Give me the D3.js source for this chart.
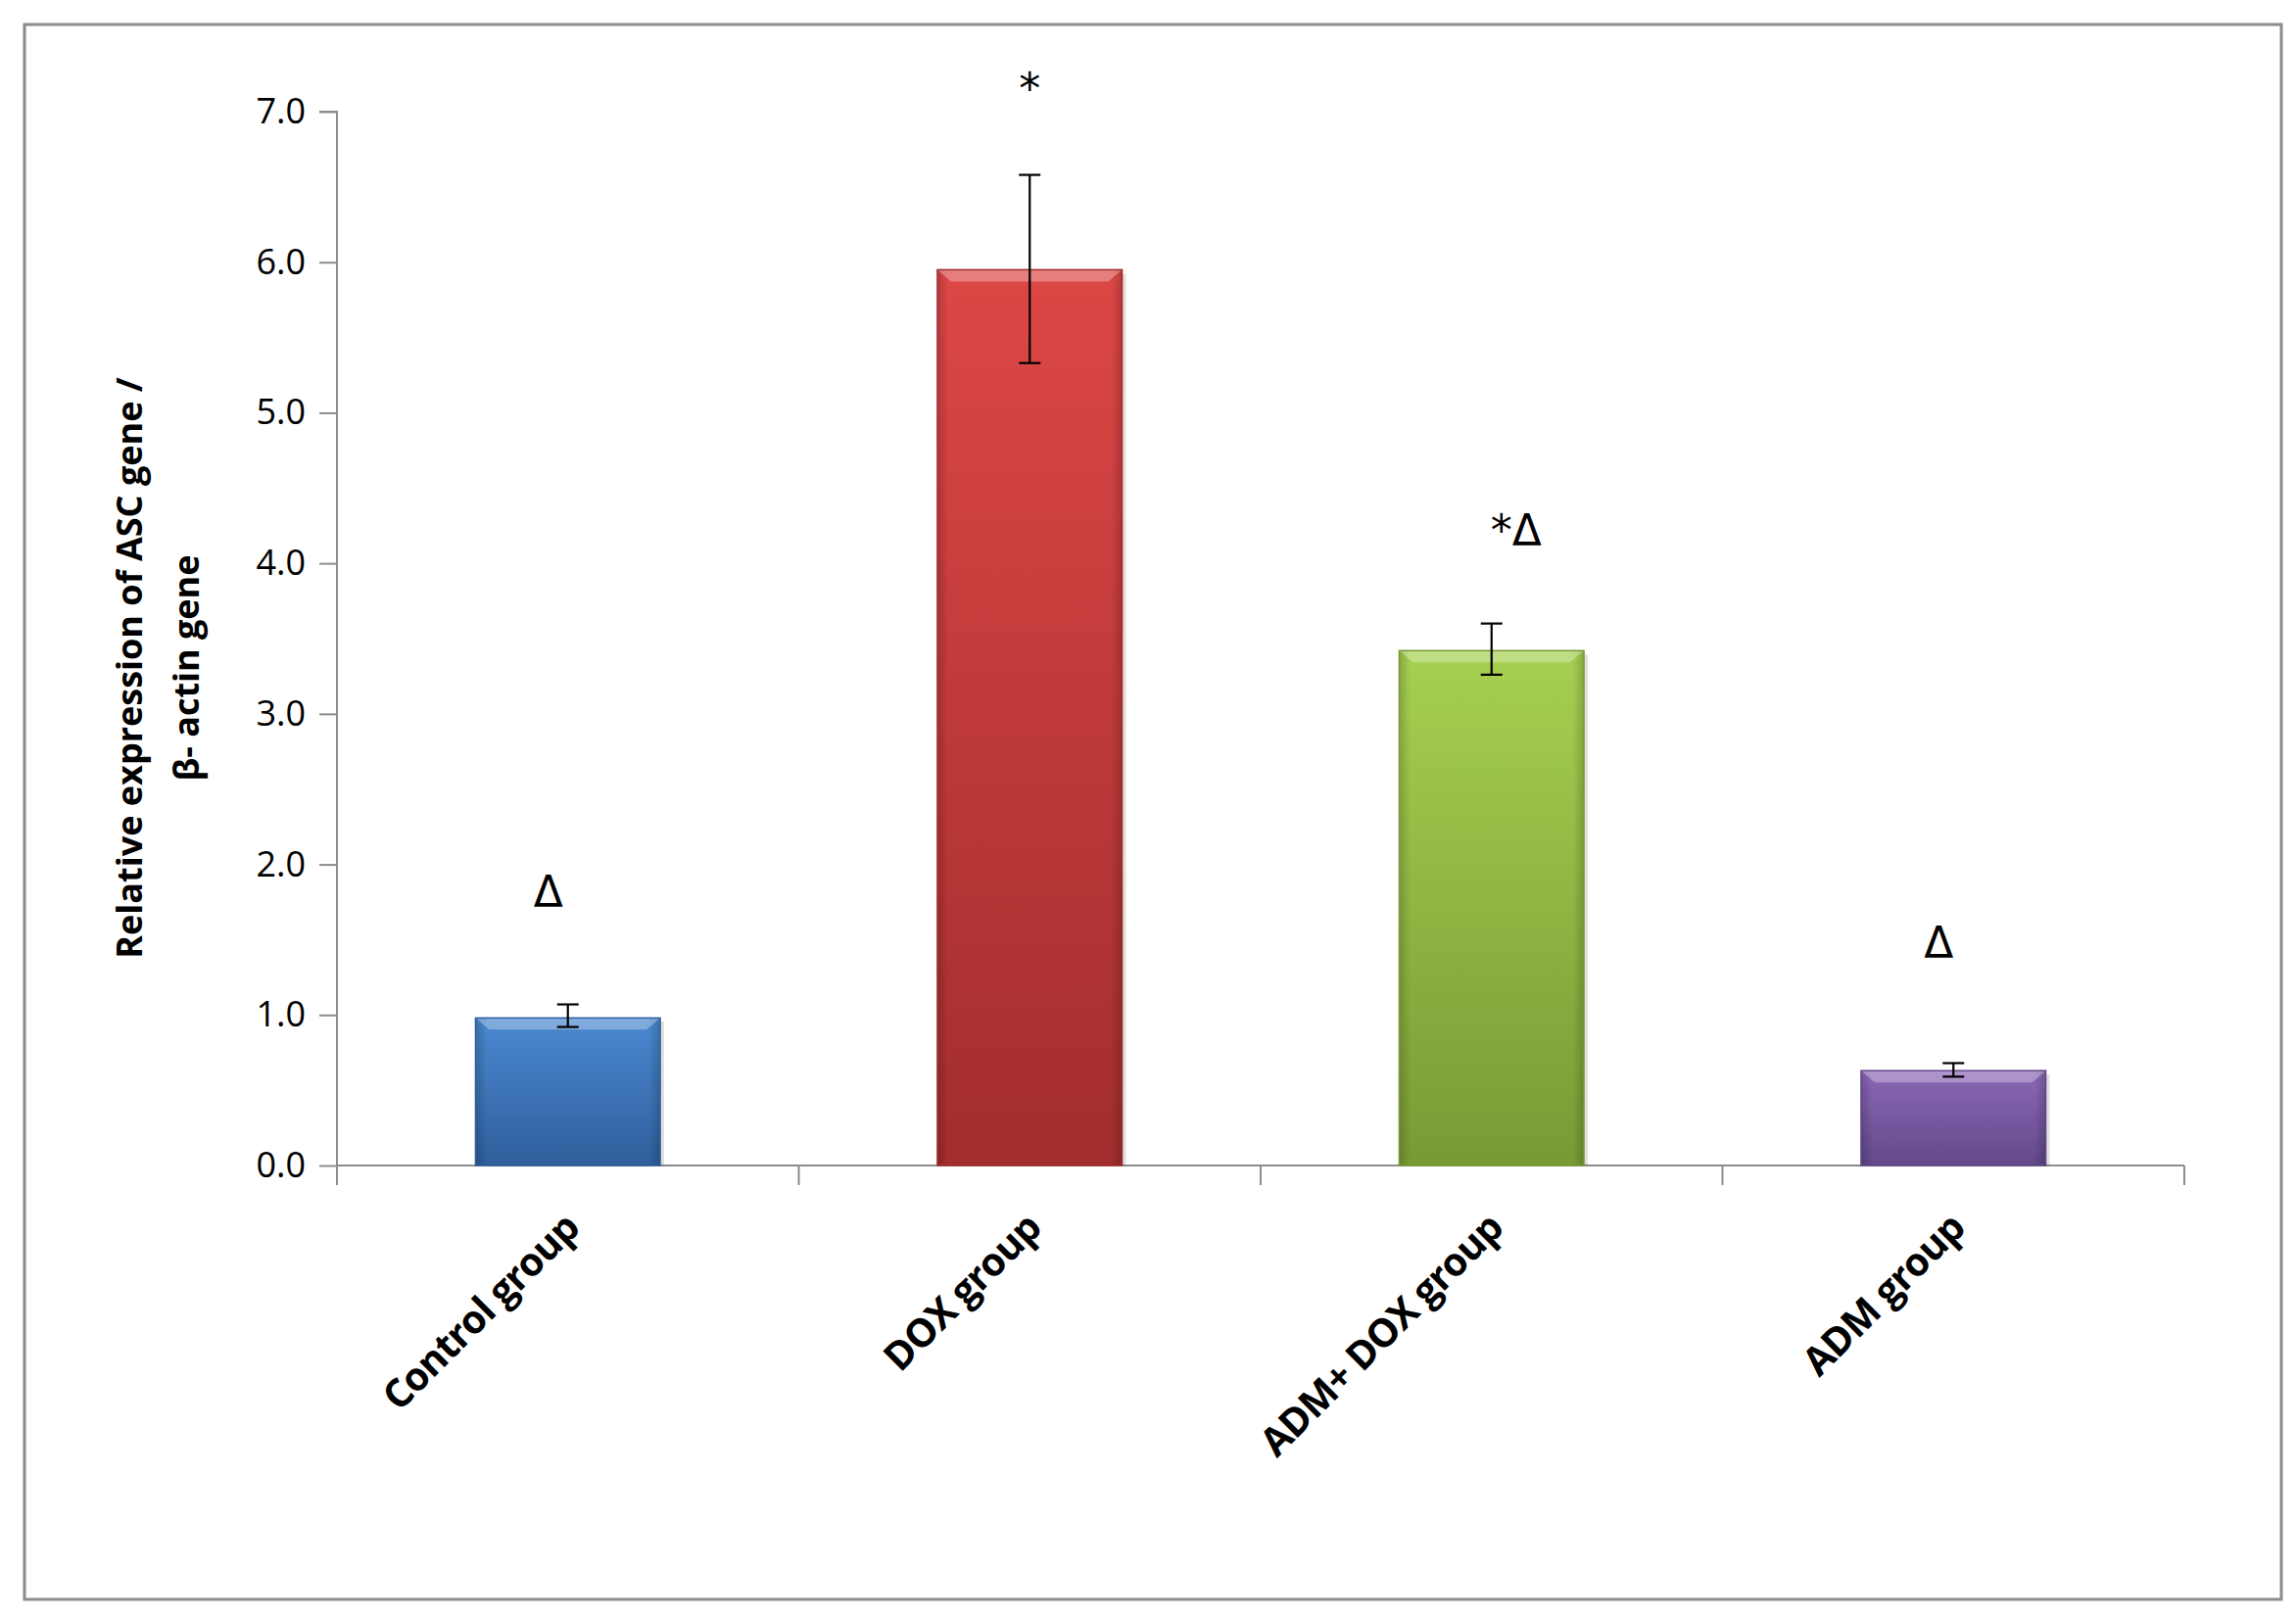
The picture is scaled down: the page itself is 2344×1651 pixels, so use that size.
<!DOCTYPE html>
<html><head><meta charset="utf-8">
<script src="https://cdn.jsdelivr.net/npm/d3@7"></script>
<style>body{margin:0;background:#fff}svg{display:block}</style>
</head><body>
<script>
const categories = ["Control group","DOX group","ADM+ DOX group","ADM group"];
const values = [0.98, 5.95, 3.42, 0.63];
const errUp = [0.09, 0.63, 0.18, 0.05];
const errDown = [0.06, 0.62, 0.16, 0.04];
const marks = ["Δ","*","*Δ","Δ"];
const markLevel = [1.72, 7.05, 4.12, 1.38];
const yTicks = [0,1,2,3,4,5,6,7];
const colorsTop = ["#4a88d0","#dd4746","#a6d050","#8c68b8"];
const colorsBot = ["#2f5f9c","#a22d2d","#789a35","#624889"];

const W=2344,H=1651;
const svg=d3.select("body").append("svg").attr("width",W).attr("height",H);
svg.append("rect").attr("x",25).attr("y",25).attr("width",2304).attr("height",1608)
  .attr("fill","#fff").attr("stroke","#8c8c8c").attr("stroke-width",3);

const x0=344,x1=2230,yB=1190,yT=114;
const x=d3.scaleBand().domain(categories).range([x0,x1]).paddingInner(0.6).paddingOuter(0.3);
const band=d3.scaleBand().domain(categories).range([x0,x1]);
const y=d3.scaleLinear().domain([0,7]).range([yB,yT]);

const defs=svg.append("defs");
categories.forEach((c,i)=>{
  const g=defs.append("linearGradient").attr("id","g"+i).attr("x1",0).attr("y1",0).attr("x2",0).attr("y2",1);
  g.append("stop").attr("offset","0%").attr("stop-color",colorsTop[i]);
  g.append("stop").attr("offset","100%").attr("stop-color",colorsBot[i]);
  const h=defs.append("linearGradient").attr("id","h"+i).attr("x1",0).attr("y1",0).attr("x2",1).attr("y2",0);
  h.append("stop").attr("offset","0%").attr("stop-color","#000").attr("stop-opacity",0.18);
  h.append("stop").attr("offset","6%").attr("stop-color","#000").attr("stop-opacity",0);
  h.append("stop").attr("offset","94%").attr("stop-color","#000").attr("stop-opacity",0);
  h.append("stop").attr("offset","100%").attr("stop-color","#000").attr("stop-opacity",0.18);
});

// axes
const ya=svg.append("g").attr("transform",`translate(${x0},0)`)
  .call(d3.axisLeft(y).tickValues(yTicks).tickSize(18).tickPadding(14));
ya.select(".domain").attr("stroke","#8c8c8c").attr("stroke-width",2).attr("d",`M-18,${yT}H0V${yB}`);
ya.selectAll(".tick line").attr("stroke","#8c8c8c").attr("stroke-width",2);
ya.selectAll(".tick text").attr("font-family","Open Sans, DejaVu Sans, sans-serif").attr("font-size",36).attr("fill","#000");

const xa=svg.append("g").attr("transform",`translate(0,${yB})`);
xa.append("line").attr("x1",x0).attr("x2",x1).attr("stroke","#8c8c8c").attr("stroke-width",2);
xa.selectAll(".tk").data(categories.concat(["_end"])).join("line")
  .attr("x1",(d,i)=>i<4?band(d):x1).attr("x2",(d,i)=>i<4?band(d):x1)
  .attr("y1",0).attr("y2",20).attr("stroke","#8c8c8c").attr("stroke-width",2);

// bars
const bars=svg.append("g");
categories.forEach((c,i)=>{
  const bx=x(c),bw=x.bandwidth(),by=y(values[i]),bh=yB-by;
  bars.append("rect").attr("x",bx+4).attr("y",by+4).attr("width",bw).attr("height",bh-4).attr("fill","#000").attr("opacity",0.12);
  bars.append("rect").attr("x",bx).attr("y",by).attr("width",bw).attr("height",bh).attr("fill",`url(#g${i})`);
  bars.append("rect").attr("x",bx).attr("y",by).attr("width",bw).attr("height",bh).attr("fill",`url(#h${i})`);
  bars.append("path").attr("d",`M${bx},${by}H${bx+bw}L${bx+bw-14},${by+12}H${bx+14}Z`).attr("fill","#fff").attr("opacity",0.3);
  bars.append("rect").attr("x",bx).attr("y",by).attr("width",bw).attr("height",bh).attr("fill","none").attr("stroke",colorsBot[i]).attr("stroke-width",1.5);
});

// error bars
const eb=svg.append("g").attr("stroke","#000").attr("stroke-width",2.2);
categories.forEach((c,i)=>{
  const cx=x(c)+x.bandwidth()/2, t=y(values[i]+errUp[i]), b=y(values[i]-errDown[i]);
  eb.append("line").attr("x1",cx).attr("x2",cx).attr("y1",t).attr("y2",b);
  eb.append("line").attr("x1",cx-11).attr("x2",cx+11).attr("y1",t).attr("y2",t);
  eb.append("line").attr("x1",cx-11).attr("x2",cx+11).attr("y1",b).attr("y2",b);
});

// significance marks
const offs=[-20,0,25,-15];
svg.append("g").selectAll("text").data(categories).join("text")
  .attr("x",(d,i)=>x(d)+x.bandwidth()/2+offs[i]).attr("y",(d,i)=>y(markLevel[i]))
  .attr("text-anchor","middle").attr("font-family","DejaVu Sans, sans-serif").attr("font-size",44)
  .text((d,i)=>marks[i]);

// category labels
svg.append("g").selectAll("text").data(categories).join("text")
  .attr("transform",d=>`translate(${x(d)+x.bandwidth()/2+14},${yB+66}) rotate(-45)`)
  .attr("text-anchor","end").attr("font-family","Open Sans, Liberation Sans, sans-serif")
  .attr("font-weight","bold").attr("font-size",40).attr("letter-spacing",-1).text(d=>d);

// y title
const yt=svg.append("text").attr("transform",`translate(145,${(yT+yB)/2+30}) rotate(-90)`)
  .attr("text-anchor","middle").attr("font-family","Liberation Sans Narrow, Open Sans, sans-serif")
  .attr("font-weight","bold").attr("font-size",36);
yt.append("tspan").attr("x",0).attr("dy",0).text("Relative expression of  ASC gene /");
yt.append("tspan").attr("x",0).attr("dy",58).text("β- actin  gene");
</script>
</body></html>
